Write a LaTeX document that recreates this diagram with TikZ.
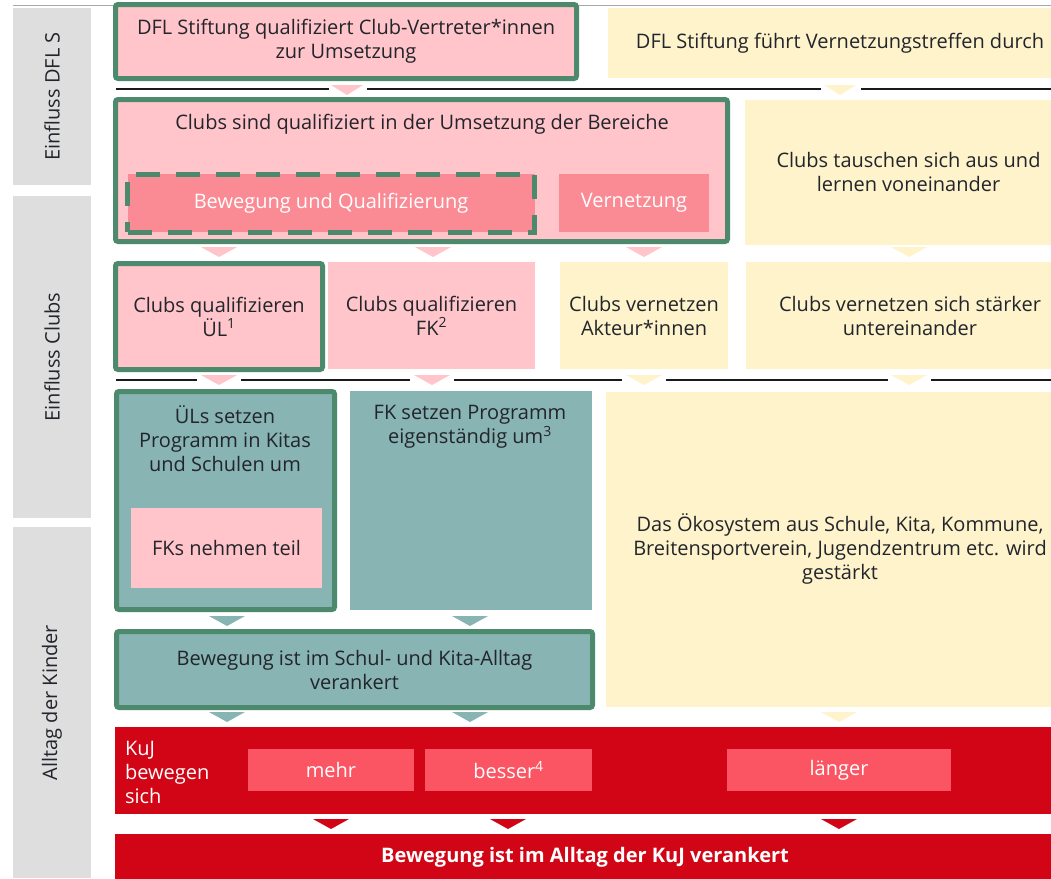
\documentclass[tikz,border=0pt]{standalone}
\usepackage{fontspec}
\setmainfont{Open Sans}
\definecolor{cpink}{HTML}{FFC5CA}
\definecolor{csalmon}{HTML}{FA8B94}
\definecolor{cyellow}{HTML}{FFF3CC}
\definecolor{cteal}{HTML}{88B4B3}
\definecolor{cgreen}{HTML}{4D8A6D}
\definecolor{cred}{HTML}{D10515}
\definecolor{clred}{HTML}{FB5463}
\definecolor{cside}{HTML}{DEDEDE}
\definecolor{ctext}{HTML}{22252B}
\definecolor{cline}{HTML}{1A1A1A}
\definecolor{ctop}{HTML}{A8A8A8}
\newcommand\fsz{\fontsize{20}{24}\selectfont}
\newcommand\downtri[4]{\fill[#1] (#2-#4/2,#3) -- (#2+#4/2,#3) -- (#2,#3+10) -- cycle;}
\tikzset{
  base/.style={inner sep=0pt, outer sep=0pt, align=center, text=ctext, font=\fsz},
  side/.style={base, fill=cside},
  pinkbox/.style={base, fill=cpink},
  yellowbox/.style={base, fill=cyellow},
  tealbox/.style={base, fill=cteal},
  salmonbox/.style={base, fill=csalmon, text=white},
  redbox/.style={base, fill=cred, text=white},
  lredbox/.style={base, fill=clred, text=white},
  gbox/.style={draw=cgreen, line width=5pt, rounded corners=2.5pt},
  dashbox/.style={draw=cgreen, line width=5pt, dash pattern=on 24pt off 16pt},
  sep/.style={draw=cline, line width=2.2pt},
}
\begin{document}
\begin{tikzpicture}[x=1pt,y=-1pt]
\useasboundingbox (0,0) rectangle (1051,878);
\clip (0,0) rectangle (1051,878);
\fill[white] (0,0) rectangle (1051,878);

% sidebar
\node[side, rotate=90, minimum width=177pt, minimum height=78pt] (s1) at (52,96.5) {Einfluss DFL S};
\node[side, rotate=90, minimum width=322pt, minimum height=78pt] (s2) at (52,357) {Einfluss Clubs};
\node[side, rotate=90, minimum width=351pt, minimum height=78pt] (s3) at (52,702.5) {Alltag der Kinder};

% top thin line
\coordinate (tl) at (13,5);
\coordinate (tr) at (1072,5);
\draw[ctop, line width=1pt] (tl) -- (tr);

% row 1
\node[pinkbox, gbox, minimum width=461pt, minimum height=74pt] (b1) at (346,41.5) {DFL Stiftung qualifiziert Club-Vertreter*innen\\zur Umsetzung};
\node[yellowbox, minimum width=464pt, minimum height=70pt] (y1) at (840,43) {DFL Stiftung führt Vernetzungstreffen durch};

% separator 1
\draw[sep] (116,89) -- (329,89);
\draw[sep] (367,89) -- (821,89);
\draw[sep] (861,89) -- (1072,89);
\downtri{cpink}{347}{85}{32}
\downtri{cyellow}{840}{85}{32}

% row 2
\node[pinkbox, gbox, minimum width=612pt, minimum height=142pt] (b2) at (421.5,170.5) {};
\node[base] (b2t) at (422,124) {Clubs sind qualifiziert in der Umsetzung der Bereiche};
\node[salmonbox, dashbox, minimum width=407pt, minimum height=58pt] (d1) at (331,203) {Bewegung und Qualifizierung};
\node[salmonbox, minimum width=150pt, minimum height=58pt] (v1) at (634,203) {Vernetzung};
\node[yellowbox, minimum width=327pt, minimum height=145pt] (y2) at (908.5,172) {Clubs tauschen sich aus und\\lernen voneinander};

\downtri{cpink}{219}{247}{36}
\downtri{cpink}{433}{247}{36}
\downtri{cpink}{644}{247}{36}
\downtri{cyellow}{909}{247}{36}

% row 3
\node[pinkbox, gbox, minimum width=207pt, minimum height=106pt] (b3) at (219,316.5) {Clubs qualifizieren\\ÜL\textsuperscript{1}};
\node[pinkbox, minimum width=207pt, minimum height=107pt] (b4) at (431.5,315.5) {Clubs qualifizieren\\FK\textsuperscript{2}};
\node[yellowbox, minimum width=168pt, minimum height=107pt] (y3) at (644,315.5) {Clubs vernetzen\\Akteur*innen};
\node[yellowbox, minimum width=328pt, minimum height=107pt] (y4) at (910,315.5) {Clubs vernetzen sich stärker\\untereinander};

% separator 2
\draw[sep] (116,380) -- (197,380);
\draw[sep] (241,380) -- (410,380);
\draw[sep] (454,380) -- (622,380);
\draw[sep] (666,380) -- (888,380);
\draw[sep] (931,380) -- (1072,380);
\downtri{cpink}{219}{375}{36}
\downtri{cpink}{432}{375}{36}
\downtri{cyellow}{644}{375}{36}
\downtri{cyellow}{909}{375}{36}

% row 4
\node[tealbox, gbox, minimum width=218pt, minimum height=218pt] (b5) at (225.5,500.5) {};
\node[base] (b5t) at (225,439) {ÜLs setzen\\Programm in Kitas\\und Schulen um};
\node[pinkbox, minimum width=191pt, minimum height=80pt] (p1) at (226.5,548) {FKs nehmen teil};
\node[tealbox, minimum width=242pt, minimum height=219pt] (b6) at (471,500.5) {};
\node[base] (b6t) at (470,427) {FK setzen Programm\\eigenständig um\textsuperscript{3}};
\node[yellowbox, minimum width=468pt, minimum height=315pt] (y5) at (840,549) {Das Ökosystem aus Schule, Kita, Kommune,\\Breitensportverein, Jugendzentrum etc. wird\\gestärkt};

\downtri{cteal}{227}{616}{36}
\downtri{cteal}{470}{616}{36}

% row 5
\node[tealbox, gbox, minimum width=476pt, minimum height=76pt] (b7) at (354.5,669.5) {Bewegung ist im Schul- und Kita-Alltag\\verankert};

\downtri{cteal}{227}{712}{36}
\downtri{cteal}{470}{712}{36}
\downtri{cyellow}{839}{712}{36}

% red band
\node[redbox, minimum width=957pt, minimum height=87pt] (r1) at (593.5,770.5) {};
\node[base, text=white, align=left, anchor=west] (kuj) at (125,772) {KuJ\\bewegen\\sich};
\node[lredbox, minimum width=166pt, minimum height=42pt] (m1) at (331,770) {mehr};
\node[lredbox, minimum width=167pt, minimum height=42pt] (m2) at (508.5,770) {besser\textsuperscript{4}};
\node[lredbox, minimum width=224pt, minimum height=42pt] (m3) at (839,770) {länger};

\downtri{cred}{331}{819}{36}
\downtri{cred}{508}{819}{36}
\downtri{cred}{839}{819}{36}

\node[redbox, minimum width=940pt, minimum height=46pt] (r2) at (585,857) {\bfseries Bewegung ist im Alltag der KuJ verankert};
\end{tikzpicture}
\end{document}
